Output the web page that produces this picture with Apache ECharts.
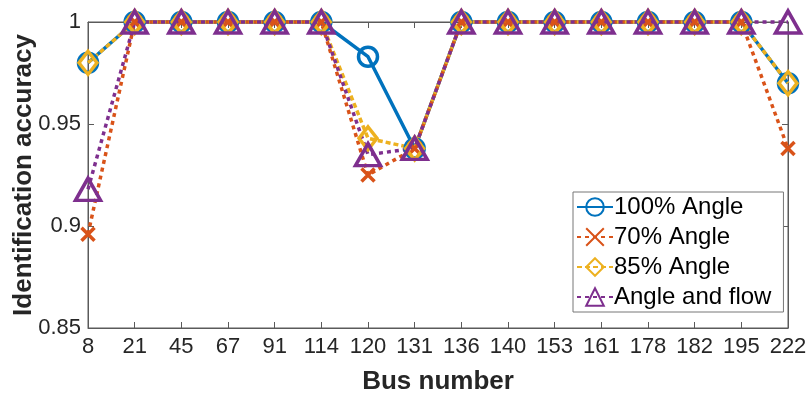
<!DOCTYPE html>
<html>
<head>
<meta charset="utf-8">
<script src="https://cdn.jsdelivr.net/npm/echarts@6/dist/echarts.min.js"></script>
<style>
html,body{margin:0;padding:0;background:#fff;}
#chart{width:810px;height:396px;}
</style>
</head>
<body>
<div id="chart"></div>
<script>
var categories = ['8','21','45','67','91','114','120','131','136','140','153','161','178','182','195','222'];
var angle100 = [0.980, 1, 1, 1, 1, 1, 0.983, 0.938, 1, 1, 1, 1, 1, 1, 1, 0.970];
var angle70  = [0.896, 1, 1, 1, 1, 1, 0.925, 0.938, 1, 1, 1, 1, 1, 1, 1, 0.938];
var angle85  = [0.980, 1, 1, 1, 1, 1, 0.943, 0.938, 1, 1, 1, 1, 1, 1, 1, 0.970];
var angleFlow = [0.918, 1, 1, 1, 1, 1, 0.935, 0.938, 1, 1, 1, 1, 1, 1, 1, 1];
var yTicks = [0.85, 0.9, 0.95, 1];

var FONT = "'Liberation Sans', Arial, Helvetica, sans-serif";
var TXT = '#262626';
var AX = '#5a5a5a';

function mk(name, data, color, symbol, size, dash) {
  return {
    name: name,
    type: 'line',
    data: data,
    symbol: symbol,
    symbolSize: size,
    showAllSymbol: true,
    clip: false,
    lineStyle: { color: color, width: 3.5, type: dash, cap: 'butt' },
    itemStyle: { color: 'rgba(255,255,255,0)', borderColor: color, borderWidth: 3.5 },
    emphasis: { disabled: true },
    animation: false
  };
}

var chart = echarts.init(document.getElementById('chart'), null, { renderer: 'canvas' });
chart.setOption({
  animation: false,
  textStyle: { fontFamily: FONT },
  grid: { left: 88, right: 22, top: 22, bottom: 68, outerBoundsMode: 'none', containLabel: false,
    show: true, borderColor: AX, borderWidth: 1, backgroundColor: '#fff' },
  legend: {
    orient: 'vertical',
    left: 573,
    top: 192,
    padding: [3, 12, 3, 3],
    itemGap: 6,
    itemWidth: 36,
    itemHeight: 22,
    backgroundColor: '#fff',
    borderColor: '#777',
    borderWidth: 1,
    borderRadius: 0,
    textStyle: { fontSize: 24, color: '#000', fontFamily: FONT, padding: [0, 0, 0, -4] },
    data: ['100% Angle', '70% Angle', '85% Angle', 'Angle and flow']
  },
  xAxis: [{
    type: 'category',
    data: categories,
    boundaryGap: false,
    name: 'Bus number',
    nameLocation: 'middle',
    nameGap: 41,
    nameMoveOverlap: false,
    nameTextStyle: { fontSize: 26, fontWeight: 'bold', color: TXT, fontFamily: FONT },
    axisLine: { lineStyle: { color: AX, width: 1 } },
    axisTick: { inside: true, length: 6, alignWithLabel: true, lineStyle: { color: AX } },
    axisLabel: { fontSize: 22, color: TXT, margin: 8, fontFamily: FONT, interval: 0 },
    splitLine: { show: false }
  }, {
    type: 'category',
    data: categories,
    boundaryGap: false,
    position: 'top',
    axisLine: { lineStyle: { color: AX, width: 1 } },
    axisTick: { inside: true, length: 6, lineStyle: { color: AX } },
    axisLabel: { show: false },
    splitLine: { show: false }
  }],
  yAxis: [{
    type: 'value',
    min: 0.85,
    max: 1,
    interval: 0.05,
    name: 'Identification accuracy',
    nameLocation: 'middle',
    nameGap: 51,
    nameMoveOverlap: false,
    nameTextStyle: { fontSize: 26, fontWeight: 'bold', color: TXT, fontFamily: FONT },
    axisLine: { show: true, lineStyle: { color: AX, width: 1 } },
    axisTick: { show: true, inside: true, length: 6, lineStyle: { color: AX } },
    axisLabel: { fontSize: 22, color: TXT, margin: 7, fontFamily: FONT,
      formatter: function (v) { var m = yTicks.filter(function (t) { return Math.abs(t - v) < 1e-9; }); return m.length ? String(m[0]) : ''; } },
    splitLine: { show: false }
  }, {
    type: 'value',
    min: 0.85,
    max: 1,
    interval: 0.05,
    position: 'right',
    axisLine: { show: true, lineStyle: { color: AX, width: 1 } },
    axisTick: { show: true, inside: true, length: 6, lineStyle: { color: AX } },
    axisLabel: { show: false },
    splitLine: { show: false }
  }],
  series: [
    mk('100% Angle', angle100, '#0072BD', 'circle', 19, 'solid'),
    mk('70% Angle', angle70, '#D95319', 'path://M0,0L10,10M10,0L0,10', 13, [4, 4]),
    mk('85% Angle', angle85, '#EDB120', 'diamond', [18, 23], [5, 3]),
    mk('Angle and flow', angleFlow, '#7E2F8E', 'triangle', [25, 22], [4, 4])
  ]
});
</script>
</body>
</html>
